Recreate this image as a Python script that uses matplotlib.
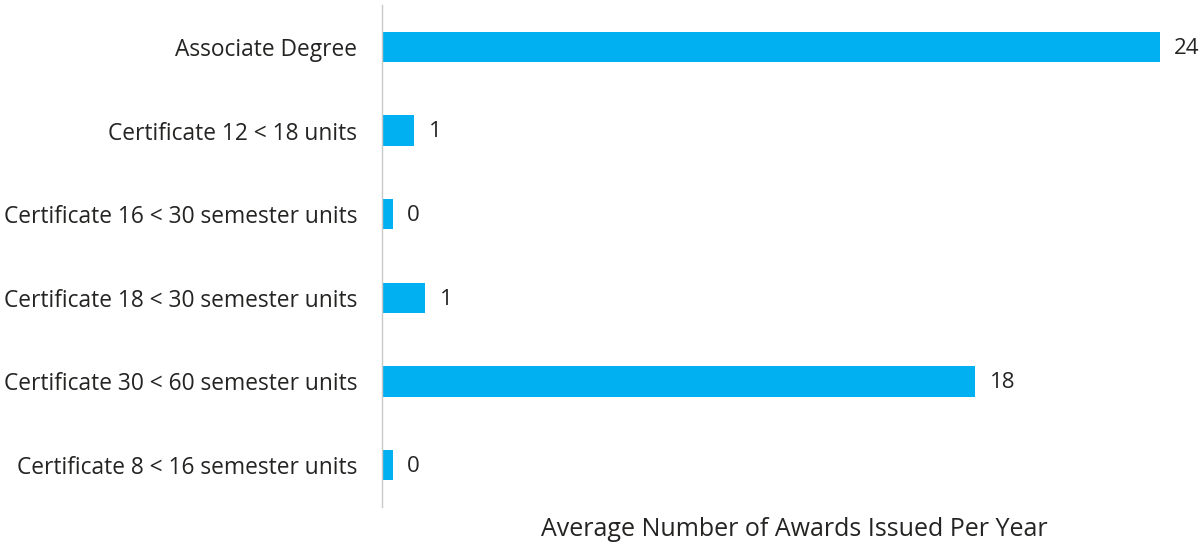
import matplotlib
matplotlib.use("Agg")
import matplotlib.pyplot as plt

categories = [
    "Associate Degree",
    "Certificate 12 < 18 units",
    "Certificate 16 < 30 semester units",
    "Certificate 18 < 30 semester units",
    "Certificate 30 < 60 semester units",
    "Certificate 8 < 16 semester units",
]
values = [24.0, 1.0, 0.33, 1.33, 18.3, 0.33]
value_labels = ["24", "1", "0", "1", "18", "0"]

plt.rcParams['font.family'] = ['Open Sans', 'DejaVu Sans']

W, H = 1203, 546
fig = plt.figure(figsize=(W / 100, H / 100), dpi=100)
left_px, right_px = 382, 1192
top_px, bottom_px = 5, 507
ax = fig.add_axes([left_px / W, 1 - bottom_px / H, (right_px - left_px) / W, (bottom_px - top_px) / H])

y = list(range(len(categories)))
ax.barh(y, values, height=0.36, color="#00B0F0")
ax.set_ylim(len(categories) - 0.5, -0.5)
ax.set_xlim(0, 25)

for yi, v, lab in zip(y, values, value_labels):
    ax.annotate(lab, (v, yi), xytext=(10.5, -1), textcoords="offset points",
                va="center", ha="left", fontsize=16, color="#252423")

ax.set_yticks(y)
ax.set_yticklabels(categories, fontsize=16.4, color="#252423")
ax.tick_params(axis="y", length=0, pad=18)
ax.set_xticks([])
for s in ["top", "right", "bottom"]:
    ax.spines[s].set_visible(False)
ax.spines["left"].set_color("#C8C8C8")
ax.spines["left"].set_linewidth(1)

fig.text(794 / W, 1 - 530 / H, "Average Number of Awards Issued Per Year",
         ha="center", va="center", fontsize=18, color="#252423")

fig.savefig("out.png", dpi=100)
